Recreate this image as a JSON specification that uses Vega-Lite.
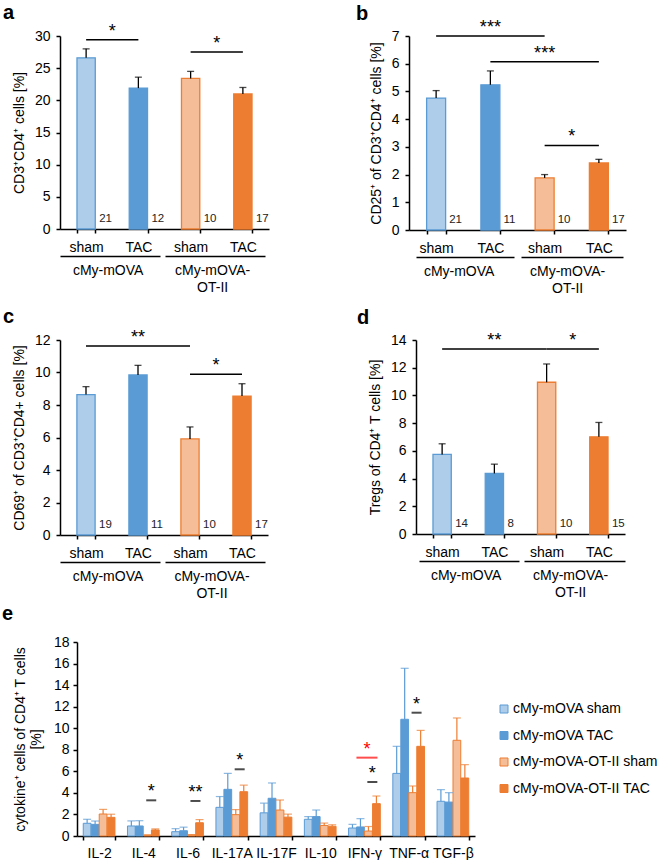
{
"$schema":"https://vega.github.io/schema/vega-lite/v6.json",
"background":"white",
"padding":{"left":2,"top":3,"right":0,"bottom":0},
"config":{
 "font":"Liberation Sans",
 "view":{"stroke":null},
 "axis":{"domainColor":"#000","domainWidth":1.5,"tickColor":"#000","tickWidth":1.5,"tickSize":4,"labelColor":"#000","labelFont":"Liberation Sans","labelFontSize":14,"titleColor":"#000","titleFont":"Liberation Sans","titleFontSize":14,"titleFontWeight":"normal","grid":false,"labelPadding":6,"titlePadding":8},
 "title":{"fontSize":20,"fontWeight":"bold","anchor":"start","frame":"group","color":"#000","font":"Liberation Sans"},
 "text":{"font":"Liberation Sans"}
},
"datasets":{
 "a":[
  {"cond":"cMy-mOVA sham","mean":26.6,"hi":28.0,"n":21},
  {"cond":"cMy-mOVA TAC","mean":21.9,"hi":23.6,"n":12},
  {"cond":"cMy-mOVA-OT-II sham","mean":23.4,"hi":24.5,"n":10},
  {"cond":"cMy-mOVA-OT-II TAC","mean":21.0,"hi":22.0,"n":17}],
 "a_sig":[
  {"from":"cMy-mOVA sham","to":"cMy-mOVA TAC","level":29.4,"label":"*","span":1},
  {"from":"cMy-mOVA-OT-II sham","to":"cMy-mOVA-OT-II TAC","level":27.5,"label":"*","span":1}],
 "b":[
  {"cond":"cMy-mOVA sham","mean":4.76,"hi":5.03,"n":21},
  {"cond":"cMy-mOVA TAC","mean":5.24,"hi":5.74,"n":11},
  {"cond":"cMy-mOVA-OT-II sham","mean":1.88,"hi":2.0,"n":10},
  {"cond":"cMy-mOVA-OT-II TAC","mean":2.42,"hi":2.55,"n":17}],
 "b_sig":[
  {"from":"cMy-mOVA sham","to":"cMy-mOVA-OT-II sham","level":7.0,"label":"***","span":2},
  {"from":"cMy-mOVA TAC","to":"cMy-mOVA-OT-II TAC","level":6.07,"label":"***","span":2},
  {"from":"cMy-mOVA-OT-II sham","to":"cMy-mOVA-OT-II TAC","level":3.05,"label":"*","span":1}],
 "c":[
  {"cond":"cMy-mOVA sham","mean":8.64,"hi":9.13,"n":19},
  {"cond":"cMy-mOVA TAC","mean":9.85,"hi":10.44,"n":11},
  {"cond":"cMy-mOVA-OT-II sham","mean":5.91,"hi":6.65,"n":10},
  {"cond":"cMy-mOVA-OT-II TAC","mean":8.55,"hi":9.31,"n":17}],
 "c_sig":[
  {"from":"cMy-mOVA sham","to":"cMy-mOVA-OT-II sham","level":11.63,"label":"**","span":2},
  {"from":"cMy-mOVA-OT-II sham","to":"cMy-mOVA-OT-II TAC","level":9.89,"label":"*","span":1}],
 "d":[
  {"cond":"cMy-mOVA sham","mean":5.74,"hi":6.51,"n":14},
  {"cond":"cMy-mOVA TAC","mean":4.37,"hi":5.04,"n":8},
  {"cond":"cMy-mOVA-OT-II sham","mean":10.95,"hi":12.27,"n":10},
  {"cond":"cMy-mOVA-OT-II TAC","mean":7.01,"hi":8.05,"n":15}],
 "d_sig":[
  {"from":"cMy-mOVA sham","to":"cMy-mOVA-OT-II sham","level":13.35,"label":"**","span":2},
  {"from":"cMy-mOVA-OT-II sham","to":"cMy-mOVA-OT-II TAC","level":13.35,"label":"*","span":1}],
 "e":[
  {"cytokine":"IL-2","cond":"cMy-mOVA sham","mean":1.18,"hi":1.55},
  {"cytokine":"IL-2","cond":"cMy-mOVA TAC","mean":1.08,"hi":1.39},
  {"cytokine":"IL-2","cond":"cMy-mOVA-OT-II sham","mean":2.04,"hi":2.47},
  {"cytokine":"IL-2","cond":"cMy-mOVA-OT-II TAC","mean":1.73,"hi":2.02},
  {"cytokine":"IL-4","cond":"cMy-mOVA sham","mean":0.93,"hi":1.4},
  {"cytokine":"IL-4","cond":"cMy-mOVA TAC","mean":0.93,"hi":1.42},
  {"cytokine":"IL-4","cond":"cMy-mOVA-OT-II sham","mean":0.08,"hi":0.1},
  {"cytokine":"IL-4","cond":"cMy-mOVA-OT-II TAC","mean":0.56,"hi":0.66},
  {"cytokine":"IL-6","cond":"cMy-mOVA sham","mean":0.4,"hi":0.68},
  {"cytokine":"IL-6","cond":"cMy-mOVA TAC","mean":0.49,"hi":0.82},
  {"cytokine":"IL-6","cond":"cMy-mOVA-OT-II sham","mean":0.1,"hi":0.12},
  {"cytokine":"IL-6","cond":"cMy-mOVA-OT-II TAC","mean":1.23,"hi":1.52},
  {"cytokine":"IL-17A","cond":"cMy-mOVA sham","mean":2.66,"hi":3.66},
  {"cytokine":"IL-17A","cond":"cMy-mOVA TAC","mean":4.33,"hi":5.81},
  {"cytokine":"IL-17A","cond":"cMy-mOVA-OT-II sham","mean":1.98,"hi":2.45},
  {"cytokine":"IL-17A","cond":"cMy-mOVA-OT-II TAC","mean":4.11,"hi":4.72},
  {"cytokine":"IL-17F","cond":"cMy-mOVA sham","mean":2.15,"hi":3.05},
  {"cytokine":"IL-17F","cond":"cMy-mOVA TAC","mean":3.5,"hi":4.92},
  {"cytokine":"IL-17F","cond":"cMy-mOVA-OT-II sham","mean":2.41,"hi":3.34},
  {"cytokine":"IL-17F","cond":"cMy-mOVA-OT-II TAC","mean":1.75,"hi":2.03},
  {"cytokine":"IL-10","cond":"cMy-mOVA sham","mean":1.55,"hi":1.8},
  {"cytokine":"IL-10","cond":"cMy-mOVA TAC","mean":1.8,"hi":2.41},
  {"cytokine":"IL-10","cond":"cMy-mOVA-OT-II sham","mean":0.98,"hi":1.2},
  {"cytokine":"IL-10","cond":"cMy-mOVA-OT-II TAC","mean":0.9,"hi":1.04},
  {"cytokine":"IFN-γ","cond":"cMy-mOVA sham","mean":0.74,"hi":1.08},
  {"cytokine":"IFN-γ","cond":"cMy-mOVA TAC","mean":0.84,"hi":1.61},
  {"cytokine":"IFN-γ","cond":"cMy-mOVA-OT-II sham","mean":0.46,"hi":0.88},
  {"cytokine":"IFN-γ","cond":"cMy-mOVA-OT-II TAC","mean":3.0,"hi":3.71},
  {"cytokine":"TNF-α","cond":"cMy-mOVA sham","mean":5.81,"hi":8.32},
  {"cytokine":"TNF-α","cond":"cMy-mOVA TAC","mean":10.83,"hi":15.56},
  {"cytokine":"TNF-α","cond":"cMy-mOVA-OT-II sham","mean":4.02,"hi":4.64},
  {"cytokine":"TNF-α","cond":"cMy-mOVA-OT-II TAC","mean":8.32,"hi":9.8},
  {"cytokine":"TGF-β","cond":"cMy-mOVA sham","mean":3.22,"hi":4.3},
  {"cytokine":"TGF-β","cond":"cMy-mOVA TAC","mean":3.15,"hi":4.02},
  {"cytokine":"TGF-β","cond":"cMy-mOVA-OT-II sham","mean":8.88,"hi":10.95},
  {"cytokine":"TGF-β","cond":"cMy-mOVA-OT-II TAC","mean":5.38,"hi":6.62}],
 "e_sig":[
  {"cytokine":"IL-4","level":3.31,"label":"*","cmp":"OT-II sham vs OT-II TAC"},
  {"cytokine":"IL-6","level":3.25,"label":"**","cmp":"OT-II sham vs OT-II TAC"},
  {"cytokine":"IL-17A","level":6.19,"label":"*","cmp":"OT-II sham vs OT-II TAC"},
  {"cytokine":"IFN-γ","level":5.01,"label":"*","cmp":"OT-II sham vs OT-II TAC"},
  {"cytokine":"TNF-α","level":11.44,"label":"*","cmp":"OT-II sham vs OT-II TAC"},
  {"cytokine":"IFN-γ","level":7.27,"label":"*","cmp":"mOVA TAC vs OT-II TAC"}]
},
"resolve":{"scale":{"fill":"independent","stroke":"independent","color":"independent"}},
"spacing":4,
"vconcat":[
 {"spacing":12,"vconcat":[
  {"spacing":87,"hconcat":[
   {"title":{"text":"a","dx":-57,"offset":-0.5},"width":209,"height":193,"resolve":{"axis":{"x":"independent","y":"independent"}},
    "layer":[
     {"data":{"name":"a"},"mark":{"type":"bar","strokeWidth":1.3},
      "encoding":{
       "x":{"field":"cond","type":"nominal","scale":{"domain":["cMy-mOVA sham","cMy-mOVA TAC","cMy-mOVA-OT-II sham","cMy-mOVA-OT-II TAC"],"paddingInner":0.65,"paddingOuter":0.325},"axis":{"title":null,"labelExpr":"split(datum.label,' ')[1]","tickBand":"extent","labelAngle":0,"labelPadding":7}},
       "y":{"field":"mean","type":"quantitative","scale":{"domain":[0,30],"nice":false},"axis":{"title":"CD3⁺CD4⁺ cells [%]","values":[0,5,10,15,20,25,30],"tickCount":7}},
       "fill":{"field":"cond","type":"nominal","scale":{"domain":["cMy-mOVA sham","cMy-mOVA TAC","cMy-mOVA-OT-II sham","cMy-mOVA-OT-II TAC"],"range":["#ADCDEA","#5B9BD5","#F6BE98","#ED7D31"]},"legend":null},
       "stroke":{"field":"cond","type":"nominal","scale":{"domain":["cMy-mOVA sham","cMy-mOVA TAC","cMy-mOVA-OT-II sham","cMy-mOVA-OT-II TAC"],"range":["#5B9BD5","#5B9BD5","#ED7D31","#ED7D31"]},"legend":null}}},
     {"data":{"name":"a"},"mark":{"type":"rule","color":"#000","strokeWidth":1.3},
      "encoding":{"x":{"field":"cond","type":"nominal","axis":null},"y":{"field":"mean","type":"quantitative","axis":null},"y2":{"field":"hi"}}},
     {"data":{"name":"a"},"mark":{"type":"tick","orient":"horizontal","color":"#000","size":7,"thickness":1.3},
      "encoding":{"x":{"field":"cond","type":"nominal","axis":null},"y":{"field":"hi","type":"quantitative","axis":null}}},
     {"data":{"name":"a"},"mark":{"type":"text","align":"left","baseline":"alphabetic","dx":13,"dy":-7,"fontSize":11.5,"color":"#222"},
      "encoding":{"x":{"field":"cond","type":"nominal","axis":{"title":null,"orient":"bottom","offset":27,"ticks":false,"domainDash":[100,5],"domainWidth":1.3,"labelExpr":"datum.label == 'cMy-mOVA sham' ? 'cMy-mOVA' : datum.label == 'cMy-mOVA-OT-II sham' ? ['cMy-mOVA-','OT-II'] : ''","labelOffset":22,"labelPadding":7,"labelAngle":0,"labelLineHeight":17}},"y":{"datum":0,"axis":null},"text":{"field":"n"}}},
     {"data":{"name":"a_sig"},"mark":{"type":"rule","color":"#000","strokeWidth":1.5},
      "encoding":{"x":{"field":"from","type":"nominal","axis":null},"x2":{"field":"to"},"y":{"field":"level","type":"quantitative","axis":null}}},
     {"data":{"name":"a_sig"},"transform":[{"filter":"datum.span == 1"}],"mark":{"type":"text","fontSize":18,"dy":-3,"baseline":"alphabetic","color":"#000"},
      "encoding":{"x":{"field":"from","type":"nominal","bandPosition":1.929,"axis":null},"y":{"field":"level","type":"quantitative","axis":null},"text":{"field":"label"}}}
    ]},
   {"title":{"text":"b","dx":-53,"offset":-4.9},"width":217,"height":194,"resolve":{"axis":{"x":"independent","y":"independent"}},
    "layer":[
     {"data":{"name":"b"},"mark":{"type":"bar","strokeWidth":1.3},
      "encoding":{
       "x":{"field":"cond","type":"nominal","scale":{"domain":["cMy-mOVA sham","cMy-mOVA TAC","cMy-mOVA-OT-II sham","cMy-mOVA-OT-II TAC"],"paddingInner":0.65,"paddingOuter":0.325},"axis":{"title":null,"labelExpr":"split(datum.label,' ')[1]","tickBand":"extent","labelAngle":0,"labelPadding":7}},
       "y":{"field":"mean","type":"quantitative","scale":{"domain":[0,7],"nice":false},"axis":{"title":"CD25⁺ of CD3⁺CD4⁺ cells [%]","values":[0,1,2,3,4,5,6,7],"tickCount":8}},
       "fill":{"field":"cond","type":"nominal","scale":{"domain":["cMy-mOVA sham","cMy-mOVA TAC","cMy-mOVA-OT-II sham","cMy-mOVA-OT-II TAC"],"range":["#ADCDEA","#5B9BD5","#F6BE98","#ED7D31"]},"legend":null},
       "stroke":{"field":"cond","type":"nominal","scale":{"domain":["cMy-mOVA sham","cMy-mOVA TAC","cMy-mOVA-OT-II sham","cMy-mOVA-OT-II TAC"],"range":["#5B9BD5","#5B9BD5","#ED7D31","#ED7D31"]},"legend":null}}},
     {"data":{"name":"b"},"mark":{"type":"rule","color":"#000","strokeWidth":1.3},
      "encoding":{"x":{"field":"cond","type":"nominal","axis":null},"y":{"field":"mean","type":"quantitative","axis":null},"y2":{"field":"hi"}}},
     {"data":{"name":"b"},"mark":{"type":"tick","orient":"horizontal","color":"#000","size":7,"thickness":1.3},
      "encoding":{"x":{"field":"cond","type":"nominal","axis":null},"y":{"field":"hi","type":"quantitative","axis":null}}},
     {"data":{"name":"b"},"mark":{"type":"text","align":"left","baseline":"alphabetic","dx":13,"dy":-7,"fontSize":11.5,"color":"#222"},
      "encoding":{"x":{"field":"cond","type":"nominal","axis":{"title":null,"orient":"bottom","offset":27,"ticks":false,"domainDash":[0,7,98,7,102,10],"domainWidth":1.3,"labelExpr":"datum.label == 'cMy-mOVA sham' ? 'cMy-mOVA' : datum.label == 'cMy-mOVA-OT-II sham' ? ['cMy-mOVA-','OT-II'] : ''","labelOffset":23,"labelPadding":7,"labelAngle":0,"labelLineHeight":17}},"y":{"datum":0,"axis":null},"text":{"field":"n"}}},
     {"data":{"name":"b_sig"},"mark":{"type":"rule","color":"#000","strokeWidth":1.5},
      "encoding":{"x":{"field":"from","type":"nominal","axis":null},"x2":{"field":"to"},"y":{"field":"level","type":"quantitative","axis":null}}},
     {"data":{"name":"b_sig"},"transform":[{"filter":"datum.span == 1"}],"mark":{"type":"text","fontSize":18,"dy":-3,"baseline":"alphabetic","color":"#000"},
      "encoding":{"x":{"field":"from","type":"nominal","bandPosition":1.929,"axis":null},"y":{"field":"level","type":"quantitative","axis":null},"text":{"field":"label"}}},
     {"data":{"name":"b_sig"},"transform":[{"filter":"datum.span == 2"}],"mark":{"type":"text","fontSize":18,"dy":-3,"baseline":"alphabetic","color":"#000"},
      "encoding":{"x":{"field":"from","type":"nominal","bandPosition":3.357,"axis":null},"y":{"field":"level","type":"quantitative","axis":null},"text":{"field":"label"}}}
    ]}
  ]},
  {"spacing":89,"hconcat":[
   {"title":{"text":"c","dx":-57,"offset":1.6},"width":208,"height":195,"resolve":{"axis":{"x":"independent","y":"independent"}},
    "layer":[
     {"data":{"name":"c"},"mark":{"type":"bar","strokeWidth":1.3},
      "encoding":{
       "x":{"field":"cond","type":"nominal","scale":{"domain":["cMy-mOVA sham","cMy-mOVA TAC","cMy-mOVA-OT-II sham","cMy-mOVA-OT-II TAC"],"paddingInner":0.65,"paddingOuter":0.325},"axis":{"title":null,"labelExpr":"split(datum.label,' ')[1]","tickBand":"extent","labelAngle":0,"labelPadding":7}},
       "y":{"field":"mean","type":"quantitative","scale":{"domain":[0,12],"nice":false},"axis":{"title":"CD69⁺ of CD3⁺CD4+ cells [%]","values":[0,2,4,6,8,10,12],"tickCount":7}},
       "fill":{"field":"cond","type":"nominal","scale":{"domain":["cMy-mOVA sham","cMy-mOVA TAC","cMy-mOVA-OT-II sham","cMy-mOVA-OT-II TAC"],"range":["#ADCDEA","#5B9BD5","#F6BE98","#ED7D31"]},"legend":null},
       "stroke":{"field":"cond","type":"nominal","scale":{"domain":["cMy-mOVA sham","cMy-mOVA TAC","cMy-mOVA-OT-II sham","cMy-mOVA-OT-II TAC"],"range":["#5B9BD5","#5B9BD5","#ED7D31","#ED7D31"]},"legend":null}}},
     {"data":{"name":"c"},"mark":{"type":"rule","color":"#000","strokeWidth":1.3},
      "encoding":{"x":{"field":"cond","type":"nominal","axis":null},"y":{"field":"mean","type":"quantitative","axis":null},"y2":{"field":"hi"}}},
     {"data":{"name":"c"},"mark":{"type":"tick","orient":"horizontal","color":"#000","size":7,"thickness":1.3},
      "encoding":{"x":{"field":"cond","type":"nominal","axis":null},"y":{"field":"hi","type":"quantitative","axis":null}}},
     {"data":{"name":"c"},"mark":{"type":"text","align":"left","baseline":"alphabetic","dx":13,"dy":-7,"fontSize":11.5,"color":"#222"},
      "encoding":{"x":{"field":"cond","type":"nominal","axis":{"title":null,"orient":"bottom","offset":27,"ticks":false,"domainDash":[100,5],"domainWidth":1.3,"labelExpr":"datum.label == 'cMy-mOVA sham' ? 'cMy-mOVA' : datum.label == 'cMy-mOVA-OT-II sham' ? ['cMy-mOVA-','OT-II'] : ''","labelOffset":22,"labelPadding":7,"labelAngle":0,"labelLineHeight":17}},"y":{"datum":0,"axis":null},"text":{"field":"n"}}},
     {"data":{"name":"c_sig"},"mark":{"type":"rule","color":"#000","strokeWidth":1.5},
      "encoding":{"x":{"field":"from","type":"nominal","axis":null},"x2":{"field":"to"},"y":{"field":"level","type":"quantitative","axis":null}}},
     {"data":{"name":"c_sig"},"transform":[{"filter":"datum.span == 1"}],"mark":{"type":"text","fontSize":18,"dy":-3,"baseline":"alphabetic","color":"#000"},
      "encoding":{"x":{"field":"from","type":"nominal","bandPosition":1.929,"axis":null},"y":{"field":"level","type":"quantitative","axis":null},"text":{"field":"label"}}},
     {"data":{"name":"c_sig"},"transform":[{"filter":"datum.span == 2"}],"mark":{"type":"text","fontSize":18,"dy":-3,"baseline":"alphabetic","color":"#000"},
      "encoding":{"x":{"field":"from","type":"nominal","bandPosition":3.357,"axis":null},"y":{"field":"level","type":"quantitative","axis":null},"text":{"field":"label"}}}
    ]},
   {"title":{"text":"d","dx":-59,"offset":3.6},"width":209,"height":194,"resolve":{"axis":{"x":"independent","y":"independent"}},
    "layer":[
     {"data":{"name":"d"},"mark":{"type":"bar","strokeWidth":1.3},
      "encoding":{
       "x":{"field":"cond","type":"nominal","scale":{"domain":["cMy-mOVA sham","cMy-mOVA TAC","cMy-mOVA-OT-II sham","cMy-mOVA-OT-II TAC"],"paddingInner":0.65,"paddingOuter":0.325},"axis":{"title":null,"labelExpr":"split(datum.label,' ')[1]","tickBand":"extent","labelAngle":0,"labelPadding":7}},
       "y":{"field":"mean","type":"quantitative","scale":{"domain":[0,14],"nice":false},"axis":{"title":"Tregs of CD4⁺ T cells [%]","values":[0,2,4,6,8,10,12,14],"tickCount":8}},
       "fill":{"field":"cond","type":"nominal","scale":{"domain":["cMy-mOVA sham","cMy-mOVA TAC","cMy-mOVA-OT-II sham","cMy-mOVA-OT-II TAC"],"range":["#ADCDEA","#5B9BD5","#F6BE98","#ED7D31"]},"legend":null},
       "stroke":{"field":"cond","type":"nominal","scale":{"domain":["cMy-mOVA sham","cMy-mOVA TAC","cMy-mOVA-OT-II sham","cMy-mOVA-OT-II TAC"],"range":["#5B9BD5","#5B9BD5","#ED7D31","#ED7D31"]},"legend":null}}},
     {"data":{"name":"d"},"mark":{"type":"rule","color":"#000","strokeWidth":1.3},
      "encoding":{"x":{"field":"cond","type":"nominal","axis":null},"y":{"field":"mean","type":"quantitative","axis":null},"y2":{"field":"hi"}}},
     {"data":{"name":"d"},"mark":{"type":"tick","orient":"horizontal","color":"#000","size":7,"thickness":1.3},
      "encoding":{"x":{"field":"cond","type":"nominal","axis":null},"y":{"field":"hi","type":"quantitative","axis":null}}},
     {"data":{"name":"d"},"mark":{"type":"text","align":"left","baseline":"alphabetic","dx":13,"dy":-7,"fontSize":11.5,"color":"#222"},
      "encoding":{"x":{"field":"cond","type":"nominal","axis":{"title":null,"orient":"bottom","offset":27,"ticks":false,"domainDash":[0,3,100,5,101,10],"domainWidth":1.3,"labelExpr":"datum.label == 'cMy-mOVA sham' ? 'cMy-mOVA' : datum.label == 'cMy-mOVA-OT-II sham' ? ['cMy-mOVA-','OT-II'] : ''","labelOffset":24,"labelPadding":7,"labelAngle":0,"labelLineHeight":17}},"y":{"datum":0,"axis":null},"text":{"field":"n"}}},
     {"data":{"name":"d_sig"},"mark":{"type":"rule","color":"#000","strokeWidth":1.5},
      "encoding":{"x":{"field":"from","type":"nominal","axis":null},"x2":{"field":"to"},"y":{"field":"level","type":"quantitative","axis":null}}},
     {"data":{"name":"d_sig"},"transform":[{"filter":"datum.span == 1"}],"mark":{"type":"text","fontSize":18,"dy":-3,"baseline":"alphabetic","color":"#000"},
      "encoding":{"x":{"field":"from","type":"nominal","bandPosition":1.929,"axis":null},"y":{"field":"level","type":"quantitative","axis":null},"text":{"field":"label"}}},
     {"data":{"name":"d_sig"},"transform":[{"filter":"datum.span == 2"}],"mark":{"type":"text","fontSize":18,"dy":-3,"baseline":"alphabetic","color":"#000"},
      "encoding":{"x":{"field":"from","type":"nominal","bandPosition":3.357,"axis":null},"y":{"field":"level","type":"quantitative","axis":null},"text":{"field":"label"}}}
    ]}
  ]}
 ]},
 {"title":{"text":"e","dx":-58,"offset":10.9},"width":415,"height":194,"resolve":{"axis":{"x":"independent","y":"independent"}},
  "layer":[
   {"data":{"name":"e"},"mark":{"type":"bar","strokeWidth":1},
    "encoding":{
     "x":{"field":"cytokine","type":"nominal","scale":{"domain":["IL-2","IL-4","IL-6","IL-17A","IL-17F","IL-10","IFN-γ","TNF-α","TGF-β"],"range":[17,415],"paddingInner":0.283,"paddingOuter":0.1415},"axis":{"title":null,"labelAngle":0,"tickBand":"extent","labelPadding":6,"labelOverlap":false,"labelBound":false}},
     "xOffset":{"field":"cond","type":"nominal","scale":{"domain":["cMy-mOVA sham","cMy-mOVA TAC","cMy-mOVA-OT-II sham","cMy-mOVA-OT-II TAC"],"paddingInner":0.03,"paddingOuter":0}},
     "y":{"field":"mean","type":"quantitative","scale":{"domain":[0,18],"nice":false},"axis":{"title":["cytokine⁺ cells of CD4⁺ T cells","[%]"],"values":[0,2,4,6,8,10,12,14,16,18],"tickCount":10,"offset":-17,"labelPadding":4,"titlePadding":10,"titleLineHeight":16}},
     "fill":{"field":"cond","type":"nominal","scale":{"domain":["cMy-mOVA sham","cMy-mOVA TAC","cMy-mOVA-OT-II sham","cMy-mOVA-OT-II TAC"],"range":["#ADCDEA","#5B9BD5","#F6BE98","#ED7D31"]},"legend":{"title":null,"orient":"none","legendX":437,"legendY":60,"symbolType":"square","symbolSize":64,"symbolStrokeWidth":1,"labelFontSize":14,"labelFont":"Liberation Sans","labelColor":"#000","rowPadding":12.5,"labelOffset":2,"padding":0}},
     "stroke":{"field":"cond","type":"nominal","scale":{"domain":["cMy-mOVA sham","cMy-mOVA TAC","cMy-mOVA-OT-II sham","cMy-mOVA-OT-II TAC"],"range":["#5B9BD5","#5B9BD5","#ED7D31","#ED7D31"]},"legend":{"title":null,"orient":"none","legendX":437,"legendY":60,"symbolType":"square","symbolSize":64,"symbolStrokeWidth":1,"labelFontSize":14,"labelFont":"Liberation Sans","labelColor":"#000","rowPadding":12.5,"labelOffset":2,"padding":0}}}},
   {"data":{"name":"e"},"mark":{"type":"rule","strokeWidth":1.2},
    "encoding":{"x":{"field":"cytokine","type":"nominal","axis":null},"xOffset":{"field":"cond","type":"nominal"},"y":{"field":"mean","type":"quantitative","axis":null},"y2":{"field":"hi"},
     "color":{"field":"cond","type":"nominal","scale":{"domain":["cMy-mOVA sham","cMy-mOVA TAC","cMy-mOVA-OT-II sham","cMy-mOVA-OT-II TAC"],"range":["#5B9BD5","#5B9BD5","#ED7D31","#ED7D31"]},"legend":null}}},
   {"data":{"name":"e"},"mark":{"type":"tick","orient":"horizontal","size":8,"thickness":1.2},
    "encoding":{"x":{"field":"cytokine","type":"nominal","axis":null},"xOffset":{"field":"cond","type":"nominal"},"y":{"field":"hi","type":"quantitative","axis":null},
     "color":{"field":"cond","type":"nominal","legend":null}}},
   {"data":{"name":"e_sig"},"transform":[{"filter":"datum.cmp == 'OT-II sham vs OT-II TAC'"}],"mark":{"type":"tick","orient":"horizontal","size":10,"thickness":2,"color":"#000","xOffset":7.9},
    "encoding":{"x":{"field":"cytokine","type":"nominal","axis":null},"y":{"field":"level","type":"quantitative","axis":null}}},
   {"data":{"name":"e_sig"},"transform":[{"filter":"datum.cmp == 'OT-II sham vs OT-II TAC'"}],"mark":{"type":"text","fontSize":18,"dy":-3,"baseline":"alphabetic","color":"#000"},
    "encoding":{"x":{"field":"cytokine","type":"nominal","bandPosition":0.75,"axis":null},"y":{"field":"level","type":"quantitative","axis":null},"text":{"field":"label"}}},
   {"data":{"name":"e_sig"},"transform":[{"filter":"datum.cmp == 'mOVA TAC vs OT-II TAC'"}],"mark":{"type":"tick","orient":"horizontal","size":21,"thickness":2,"color":"#FF0000","xOffset":2.5},
    "encoding":{"x":{"field":"cytokine","type":"nominal","axis":null},"y":{"field":"level","type":"quantitative","axis":null}}},
   {"data":{"name":"e_sig"},"transform":[{"filter":"datum.cmp == 'mOVA TAC vs OT-II TAC'"}],"mark":{"type":"text","fontSize":18,"dy":-3,"baseline":"alphabetic","color":"#FF0000"},
    "encoding":{"x":{"field":"cytokine","type":"nominal","bandPosition":0.58,"axis":null},"y":{"field":"level","type":"quantitative","axis":null},"text":{"field":"label"}}}
  ]}
]
}
